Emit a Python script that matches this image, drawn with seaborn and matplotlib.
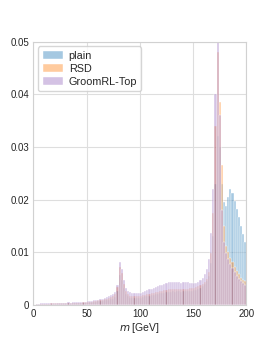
import numpy as np
import matplotlib
matplotlib.use("Agg")
import matplotlib.pyplot as plt
from matplotlib.ticker import FuncFormatter
import seaborn as sns

# bin edges: 2 GeV bins from 0 to 200
edges = list(range(0, 202, 2))
centers = [e + 1 for e in edges[:-1]]

# normalised jet-mass distributions, one value per 2 GeV bin
plain = [
    0.0, 0.0001, 0.0001, 0.0001, 0.0002, 0.0002, 0.0002, 0.0002, 0.0002, 0.0002,
    0.0002, 0.0003, 0.0003, 0.0003, 0.0003, 0.0003, 0.0003, 0.0003, 0.0003, 0.0003,
    0.0003, 0.0004, 0.0004, 0.0004, 0.0004, 0.0004, 0.0005, 0.0005, 0.0005, 0.0006,
    0.0007, 0.0007, 0.0008, 0.0009, 0.0010, 0.0010, 0.0011, 0.0012, 0.0015, 0.0026,
    0.0056, 0.0048, 0.0032, 0.0021, 0.0016, 0.0014, 0.0013, 0.0013, 0.0013, 0.0013,
    0.0014, 0.0015, 0.0016, 0.0016, 0.0017, 0.0018, 0.0019, 0.0020, 0.0021, 0.0022,
    0.0022, 0.0023, 0.0024, 0.0025, 0.0025, 0.0026, 0.0025, 0.0026, 0.0026, 0.0025,
    0.0026, 0.0026, 0.0026, 0.0027, 0.0027, 0.0028, 0.0029, 0.0030, 0.0032, 0.0035,
    0.0040, 0.0046, 0.0055, 0.0080, 0.0130, 0.0230, 0.0320, 0.0300, 0.0230, 0.0195,
    0.0188, 0.0205, 0.0220, 0.0212, 0.0198, 0.0183, 0.0166, 0.0150, 0.0135, 0.0120,
]
rsd = [
    0.0, 0.0001, 0.0001, 0.0002, 0.0002, 0.0002, 0.0002, 0.0002, 0.0003, 0.0003,
    0.0003, 0.0003, 0.0003, 0.0003, 0.0003, 0.0003, 0.0004, 0.0004, 0.0004, 0.0004,
    0.0004, 0.0004, 0.0004, 0.0005, 0.0005, 0.0005, 0.0006, 0.0006, 0.0007, 0.0008,
    0.0009, 0.0009, 0.0010, 0.0011, 0.0012, 0.0013, 0.0015, 0.0017, 0.0021, 0.0034,
    0.0072, 0.0060, 0.0040, 0.0026, 0.0020, 0.0017, 0.0016, 0.0016, 0.0016, 0.0016,
    0.0017, 0.0018, 0.0019, 0.0020, 0.0021, 0.0022, 0.0023, 0.0024, 0.0025, 0.0026,
    0.0027, 0.0028, 0.0029, 0.0030, 0.0030, 0.0031, 0.0030, 0.0031, 0.0031, 0.0030,
    0.0031, 0.0031, 0.0031, 0.0032, 0.0032, 0.0033, 0.0034, 0.0035, 0.0037, 0.0040,
    0.0044, 0.0050, 0.0062, 0.0098, 0.0175, 0.0340, 0.0480, 0.0385, 0.0265, 0.0150,
    0.0112, 0.0100, 0.0090, 0.0082, 0.0072, 0.0065, 0.0058, 0.0052, 0.0048, 0.0045,
]
groomrl = [
    0.0, 0.0001, 0.0002, 0.0003, 0.0003, 0.0003, 0.0003, 0.0004, 0.0003, 0.0004,
    0.0004, 0.0004, 0.0004, 0.0004, 0.0004, 0.0004, 0.0005, 0.0004, 0.0005, 0.0005,
    0.0005, 0.0005, 0.0005, 0.0006, 0.0006, 0.0007, 0.0007, 0.0008, 0.0009, 0.0009,
    0.0010, 0.0011, 0.0012, 0.0013, 0.0015, 0.0016, 0.0018, 0.0020, 0.0024, 0.0038,
    0.0082, 0.0068, 0.0048, 0.0033, 0.0027, 0.0024, 0.0022, 0.0022, 0.0022, 0.0023,
    0.0023, 0.0025, 0.0027, 0.0029, 0.0030, 0.0031, 0.0033, 0.0034, 0.0035, 0.0037,
    0.0038, 0.0040, 0.0042, 0.0043, 0.0044, 0.0044, 0.0043, 0.0044, 0.0043, 0.0042,
    0.0044, 0.0043, 0.0043, 0.0042, 0.0042, 0.0041, 0.0042, 0.0044, 0.0047, 0.0052,
    0.0058, 0.0068, 0.0088, 0.0137, 0.0220, 0.0400, 0.0620, 0.0360, 0.0180, 0.0120,
    0.0098, 0.0088, 0.0078, 0.0070, 0.0062, 0.0055, 0.0050, 0.0045, 0.0042, 0.0038,
]

labels = ["plain", "RSD", "GroomRL-Top"]
colors = ["tab:blue", "tab:orange", "tab:purple"]

sns.set_theme(style="whitegrid", rc={"grid.color": ".87", "grid.linewidth": 0.8,
                                     "axes.edgecolor": ".82", "axes.linewidth": 0.8})
plt.rcParams["font.family"] = ["Liberation Sans", "DejaVu Sans"]

fig, ax = plt.subplots(figsize=(2.74, 3.43), dpi=100)
fig.subplots_adjust(left=0.122, right=0.899, top=0.879, bottom=0.111)

for vals, lab, col in zip([plain, rsd, groomrl], labels, colors):
    sns.histplot(x=centers, weights=vals, bins=edges, color=col, alpha=0.4,
                 edgecolor="white", linewidth=0.3, label=lab, ax=ax)

ax.set_xlim(0, 200)
ax.set_ylim(0, 0.05)
ax.set_xticks([0, 50, 100, 150, 200])
ax.set_yticks([0, 0.01, 0.02, 0.03, 0.04, 0.05])
ax.yaxis.set_major_formatter(FuncFormatter(lambda v, _: "0" if v == 0 else f"{v:.2f}"))
ax.tick_params(labelsize=7, length=0, pad=3.2)
ax.set_xlabel("$m$ [GeV]", fontsize=7.5, labelpad=1.5)
ax.set_ylabel("")

ax.legend(loc="upper left", fontsize=7.8, labelspacing=0.28, handlelength=1.9,
          handletextpad=0.5, borderaxespad=0.45, borderpad=0.4, frameon=True)

plt.savefig("out.png", dpi=100)
